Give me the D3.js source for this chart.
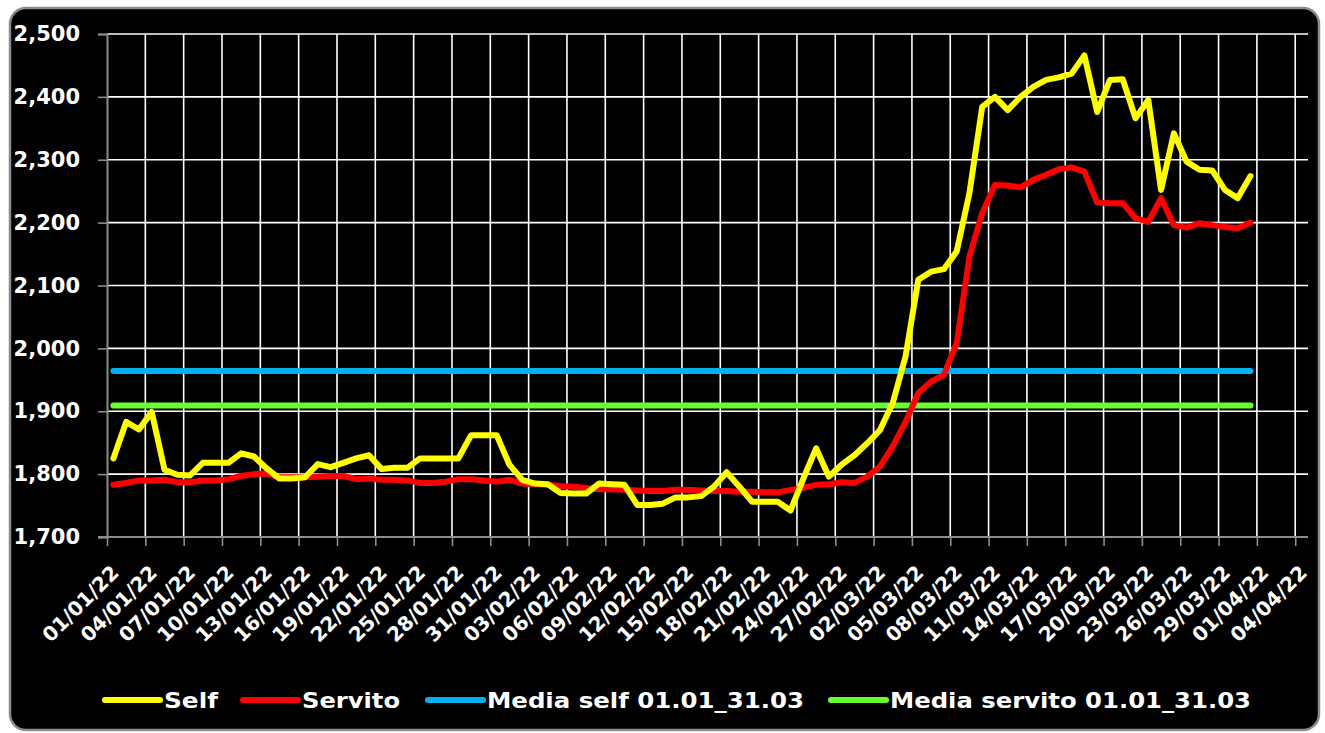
<!DOCTYPE html>
<html>
<head>
<meta charset="utf-8">
<script src="https://cdn.jsdelivr.net/npm/d3@7"></script>
<style>
  body { margin: 0; background: #fff; }
  svg { display: block; }
</style>
</head>
<body>
<svg id="chart" width="1325" height="733"></svg>
<script>
// prezzi giornalieri 01/01/22 - 31/03/22
const startDay = new Date(2022, 0, 1);
const endDay = new Date(2022, 3, 1);
const days = d3.timeDay.range(startDay, endDay);

const selfPrices = [
  1825, 1883, 1871, 1899, 1807, 1799, 1798, 1818, 1818, 1818,
  1833, 1828, 1809, 1793, 1793, 1795, 1816, 1811, 1818, 1825,
  1830, 1808, 1810, 1810, 1825, 1825, 1825, 1825, 1862, 1862,
  1862, 1815, 1791, 1785, 1784, 1770, 1769, 1769, 1785, 1784,
  1783, 1751, 1751, 1753, 1763, 1763, 1765, 1780, 1803, 1780,
  1756, 1756, 1756, 1742, 1793, 1841, 1796, 1815, 1830, 1849,
  1870, 1913, 1987, 2109, 2122, 2126, 2154, 2247, 2384, 2400,
  2379, 2400, 2416, 2427, 2431, 2437, 2466, 2376, 2427, 2428,
  2366, 2395, 2252, 2342, 2297, 2284, 2283, 2252, 2239, 2274
];

const servitoPrices = [
  1783, 1786, 1790, 1790, 1791, 1787, 1787, 1790, 1790, 1792,
  1797, 1800, 1801, 1795, 1795, 1795, 1796, 1797, 1797, 1792,
  1793, 1791, 1791, 1790, 1786, 1786, 1788, 1792, 1792, 1790,
  1788, 1791, 1785, 1784, 1783, 1781, 1780, 1778, 1776, 1776,
  1775, 1774, 1773, 1773, 1775, 1775, 1774, 1773, 1773, 1772,
  1772, 1771, 1771, 1775, 1778, 1783, 1784, 1787, 1786, 1796,
  1812, 1844, 1883, 1929, 1947, 1958, 2008, 2146, 2215, 2260,
  2259, 2256, 2268, 2276, 2285, 2288, 2281, 2232, 2231, 2231,
  2207, 2201, 2239, 2196, 2192, 2199, 2196, 2193, 2191, 2200
];

const mediaSelf = 1964;
const mediaServito = 1909;

const yTicks = [1700, 1800, 1900, 2000, 2100, 2200, 2300, 2400, 2500];
// un'etichetta ogni 3 giorni, dal 01/01/22 al 04/04/22
const xTicks = d3.timeDay.range(new Date(2022, 0, 1), new Date(2022, 3, 5), 3);

const seriesNames = ["Self", "Servito", "Media self 01.01_31.03", "Media servito 01.01_31.03"];
const seriesColors = ["#ffff00", "#ff0000", "#00b0f0", "#66ff33"];

// layout
const plotLeft = 107, plotRight = 1308, plotTop = 34, plotBottom = 537;

const svg = d3.select("#chart");

svg.append("rect")
  .attr("x", 10).attr("y", 8)
  .attr("width", 1309).attr("height", 722)
  .attr("rx", 16)
  .attr("fill", "#000")
  .attr("stroke", "#8c8c8c")
  .attr("stroke-width", 2.5);

const x = d3.scaleTime()
  .domain([new Date(2022, 0, 1), new Date(2022, 3, 5)])
  .range([plotLeft, plotRight]);

const y = d3.scaleLinear()
  .domain([1700, 2500])
  .range([plotBottom, plotTop]);

// punto al centro del giorno
const px = d => x(d3.timeHour.offset(d, 12));

// griglia
svg.append("g")
  .selectAll("line")
  .data(yTicks.slice(1))
  .join("line")
  .attr("x1", plotLeft).attr("x2", plotRight)
  .attr("y1", d => y(d)).attr("y2", d => y(d))
  .attr("stroke", "#fff")
  .attr("stroke-width", 1.6);

svg.append("g")
  .selectAll("line")
  .data(xTicks.slice(1))
  .join("line")
  .attr("x1", d => x(d)).attr("x2", d => x(d))
  .attr("y1", plotTop).attr("y2", plotBottom)
  .attr("stroke", "#fff")
  .attr("stroke-width", 1.6);

// assi
const yAxis = svg.append("g")
  .attr("transform", `translate(${plotLeft},0)`)
  .call(d3.axisLeft(y).tickValues(yTicks).tickSize(9).tickFormat(d3.format(",")));

const xAxis = svg.append("g")
  .attr("transform", `translate(0,${plotBottom})`)
  .call(d3.axisBottom(x).tickValues(xTicks).tickSize(9).tickFormat(""));

[yAxis, xAxis].forEach(a => {
  a.select(".domain").attr("stroke", "#8c8c8c").attr("stroke-width", 2);
  a.selectAll(".tick line").attr("stroke", "#8c8c8c").attr("stroke-width", 1.6);
});
xAxis.select(".domain").attr("d", `M${plotLeft - 9},0H${plotRight}`);

yAxis.selectAll(".tick text")
  .attr("x", -27)
  .attr("fill", "#fff")
  .attr("font-family", "DejaVu Sans")
  .attr("font-weight", "bold")
  .attr("font-size", 21);

const fmt = d3.timeFormat("%d/%m/%y");
svg.append("g")
  .selectAll("text")
  .data(xTicks)
  .join("text")
  .attr("transform", d => `translate(${x(d) + 13},${plotBottom + 37}) rotate(-45)`)
  .attr("text-anchor", "end")
  .attr("fill", "#fff")
  .attr("font-family", "DejaVu Sans")
  .attr("font-weight", "bold")
  .attr("font-size", 20)
  .text(d => fmt(d));

// linee
const line = d3.line()
  .x((d, i) => px(days[i]))
  .y(d => y(d));

const series = [
  { values: days.map(() => mediaSelf), color: seriesColors[2] },
  { values: days.map(() => mediaServito), color: seriesColors[3] },
  { values: servitoPrices, color: seriesColors[1] },
  { values: selfPrices, color: seriesColors[0] }
];

svg.append("g")
  .selectAll("path")
  .data(series)
  .join("path")
  .attr("d", d => line(d.values))
  .attr("fill", "none")
  .attr("stroke", d => d.color)
  .attr("stroke-width", 6)
  .attr("stroke-linejoin", "round")
  .attr("stroke-linecap", "round");

// legenda
const legendX = [105, 243, 428, 831];
const legendW = [54, 98, 317, 361];
const legend = svg.append("g").attr("transform", "translate(0,700)");

const item = legend.selectAll("g")
  .data(seriesNames)
  .join("g")
  .attr("transform", (d, i) => `translate(${legendX[i]},0)`);

item.append("line")
  .attr("x1", 0).attr("x2", 55)
  .attr("stroke", (d, i) => seriesColors[i])
  .attr("stroke-width", 6)
  .attr("stroke-linecap", "round");

item.append("text")
  .attr("x", 59)
  .attr("dy", "0.36em")
  .attr("fill", "#fff")
  .attr("font-family", "DejaVu Sans Condensed")
  .attr("font-weight", "bold")
  .attr("font-size", 21)
  .attr("textLength", (d, i) => legendW[i])
  .attr("lengthAdjust", "spacingAndGlyphs")
  .text(d => d);
</script>
</body>
</html>
